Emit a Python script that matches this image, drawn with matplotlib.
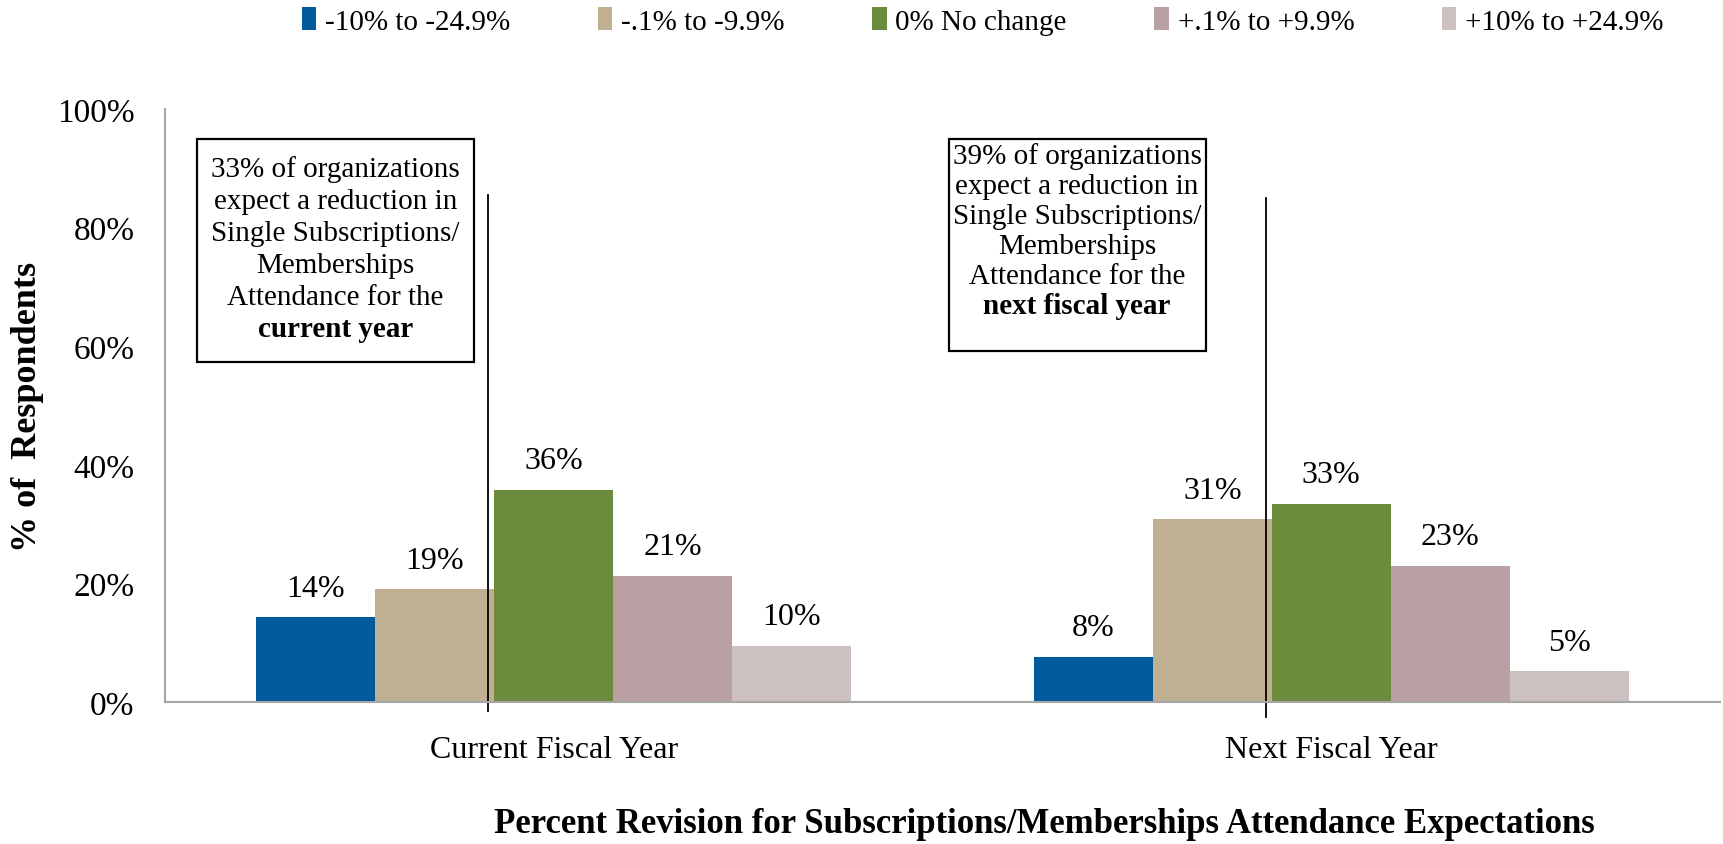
import numpy as np
import matplotlib
matplotlib.use("Agg")
import matplotlib.pyplot as plt
from matplotlib.patches import Rectangle

plt.rcParams['font.family'] = ['Liberation Serif', 'DejaVu Serif']

# data
years = ["Current Fiscal Year", "Next Fiscal Year"]
ranges = ["-10% to -24.9%", "-.1% to -9.9%", "0% No change", "+.1% to +9.9%", "+10% to +24.9%"]
current_year = [14.3, 19.0, 35.8, 21.3, 9.5]
next_year = [7.6, 30.8, 33.4, 23.0, 5.2]
colors = ["#005A9C", "#BFB092", "#6B8B3D", "#B9A0A2", "#CCC1C0"]

notes = [
    ["33% of organizations", "expect a reduction in", "Single Subscriptions/",
     "Memberships", "Attendance for the", "current year"],
    ["39% of organizations", "expect a reduction in", "Single Subscriptions/",
     "Memberships", "Attendance for the", "next fiscal year"],
]

values = np.array([current_year, next_year])
x = np.arange(len(years))
w = 0.153

fig = plt.figure(figsize=(17.24, 8.45), dpi=100)
ax = fig.add_axes([0.0957, 0.168, 0.902, 0.702])

for j, name in enumerate(ranges):
    pos = x + (j - 2) * w
    ax.bar(pos, values[:, j], width=w, color=colors[j], label=name)
    for p, v in zip(pos, values[:, j]):
        ax.annotate(f"{round(v)}%", (p, v), xytext=(0, 21), textcoords="offset points",
                    ha="center", va="center", fontsize=23)

# divider lines between decrease / no-change
ax.plot([-0.084, -0.084], [-1.5, 85.5], color="black", lw=1.3, clip_on=False)
ax.plot([0.916, 0.916], [-2.5, 85.0], color="black", lw=1.3, clip_on=False)

# annotation boxes
boxes = [(-0.459, 57.3, 0.357, 37.6, -0.281, 89.9, 5.4),
         (0.508, 59.2, 0.331, 35.7, 0.673, 92.1, 5.05)]
for (bx, by, bw, bh, cx, ty, step), lines in zip(boxes, notes):
    ax.add_patch(Rectangle((bx, by), bw, bh, fill=False, edgecolor="black", lw=1.6, zorder=5))
    for i, line in enumerate(lines):
        ax.text(cx, ty - i * step, line, ha="center", va="center", fontsize=21,
                weight="bold" if i == len(lines) - 1 else "normal", zorder=6)

ax.set_xlim(-0.5, 1.5)
ax.set_ylim(0, 100)
ax.set_yticks(np.arange(0, 101, 20))
ax.set_yticklabels([f"{t}%" for t in range(0, 101, 20)], fontsize=24)
ax.set_xticks(x)
ax.set_xticklabels(years, fontsize=23)
ax.tick_params(axis="y", length=0, pad=22)
ax.tick_params(axis="x", length=0, pad=24)
for s in ["top", "right"]:
    ax.spines[s].set_visible(False)
for s in ["left", "bottom"]:
    ax.spines[s].set_color("#A6A6A6")
    ax.spines[s].set_linewidth(1.5)

ax.set_ylabel("% of  Respondents", fontsize=26, weight="bold")
ax.yaxis.set_label_coords(-0.078, 0.5)
fig.text(0.606, 0.024, "Percent Revision for Subscriptions/Memberships Attendance Expectations",
         ha="center", va="center", fontsize=25, weight="bold")

fig.legend(loc="center", bbox_to_anchor=(0.57, 0.974), ncol=5, frameon=False,
           fontsize=21, handlelength=0.5, handleheight=0.8, handletextpad=0.3,
           columnspacing=3.0)

fig.savefig("out.png", dpi=100)
